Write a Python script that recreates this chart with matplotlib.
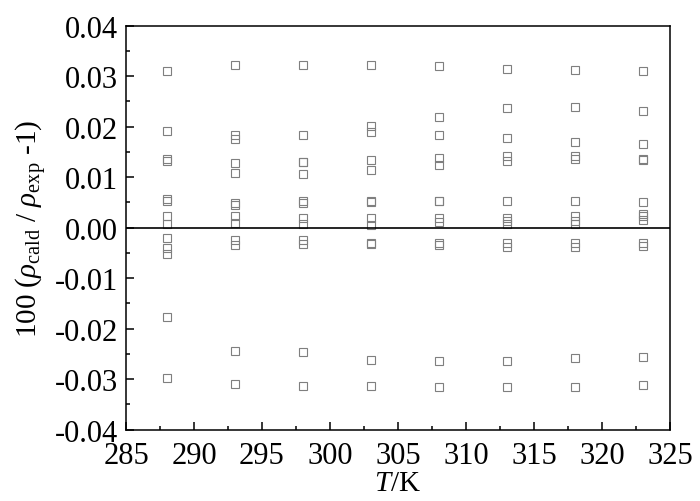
import matplotlib
matplotlib.use("Agg")
import matplotlib.pyplot as plt
from matplotlib.ticker import MultipleLocator

# temperatures (K)
temps = [288, 293, 298, 303, 308, 313, 318, 323]

# relative deviations 100(rho_cal/rho_exp - 1) read at each temperature
dev_288 = [0.0311, 0.0191, 0.0135, 0.0132, 0.0057, 0.0053, 0.0023, 0.0008,
           -0.0020, -0.0040, -0.0053, -0.0176, -0.0298]
dev_293 = [0.0322, 0.0184, 0.0175, 0.0128, 0.0108, 0.0049, 0.0045, 0.0023,
           0.0010, -0.0025, -0.0034, -0.0244, -0.0310]
dev_298 = [0.0322, 0.0183, 0.0130, 0.0129, 0.0107, 0.0053, 0.0048, 0.0020,
           0.0008, -0.0025, -0.0033, -0.0246, -0.0314]
dev_303 = [0.0322, 0.0201, 0.0189, 0.0134, 0.0115, 0.0052, 0.0051, 0.0020,
           0.0006, -0.0030, -0.0032, -0.0261, -0.0314]
dev_308 = [0.0321, 0.0220, 0.0183, 0.0138, 0.0124, 0.0053, 0.0052, 0.0020,
           0.0011, -0.0030, -0.0035, -0.0263, -0.0316]
dev_313 = [0.0315, 0.0236, 0.0177, 0.0142, 0.0132, 0.0053, 0.0019, 0.0014,
           0.0008, -0.0030, -0.0039, -0.0263, -0.0315]
dev_318 = [0.0312, 0.0239, 0.0170, 0.0142, 0.0135, 0.0053, 0.0024, 0.0014,
           0.0008, -0.0030, -0.0039, -0.0259, -0.0315]
dev_323 = [0.0310, 0.0230, 0.0165, 0.0136, 0.0133, 0.0050, 0.0027, 0.0023,
           0.0016, -0.0030, -0.0037, -0.0257, -0.0311]

devs = [dev_288, dev_293, dev_298, dev_303, dev_308, dev_313, dev_318, dev_323]

plt.rcParams['font.family'] = ['Liberation Serif', 'DejaVu Serif']
plt.rcParams['mathtext.fontset'] = 'custom'
plt.rcParams['mathtext.rm'] = 'Liberation Serif'
plt.rcParams['mathtext.it'] = 'Liberation Serif:italic'

fig = plt.figure(figsize=(7, 5.02), dpi=100)
ax = fig.add_axes([0.18, 0.142, 0.777, 0.805])

for t, d in zip(temps, devs):
    ax.plot([t] * len(d), d, ls='none', marker='s', ms=5.2,
            mfc='none', mec='#7f7f7f', mew=0.8)

ax.axhline(0, color='black', lw=1.2)

ax.set_xlim(285, 325)
ax.set_ylim(-0.04, 0.04)
ax.xaxis.set_major_locator(MultipleLocator(5))
ax.xaxis.set_minor_locator(MultipleLocator(2.5))
ax.yaxis.set_major_locator(MultipleLocator(0.01))
ax.yaxis.set_minor_locator(MultipleLocator(0.005))
ax.yaxis.set_major_formatter(plt.FormatStrFormatter('%.2f'))

ax.tick_params(which='both', direction='in', top=False, right=False,
               labelsize=22, width=1.1)
ax.tick_params(which='major', length=5.5)
ax.tick_params(axis='y', which='major', pad=6)
ax.tick_params(axis='x', which='major', pad=8)
ax.tick_params(which='minor', length=3)
for s in ax.spines.values():
    s.set_linewidth(1.1)

ax.set_xlabel(r'$T$/K', fontsize=21, labelpad=0)
ax.set_ylabel(r'100 ($\rho_{\rm cald}$ / $\rho_{\rm exp}$ -1)', fontsize=21, labelpad=4)

fig.savefig('out.png', dpi=100)
